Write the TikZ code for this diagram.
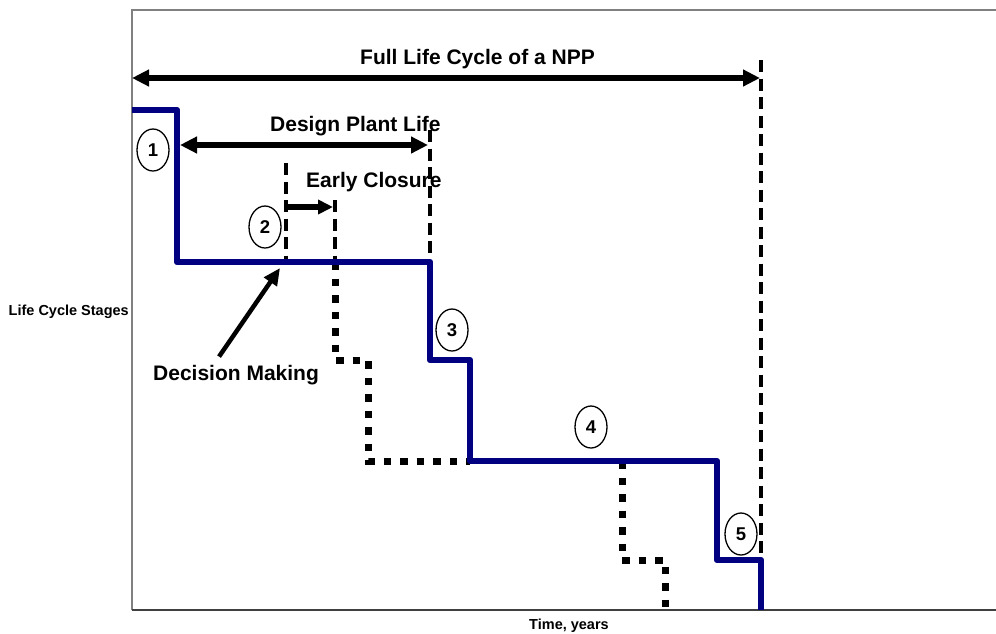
\documentclass[tikz,border=0pt]{standalone}
\usepackage{fontspec}
\setmainfont{Liberation Sans}
\usepackage{tikz}
\usetikzlibrary{arrows.meta,shapes.geometric}
\definecolor{stageblue}{RGB}{0,0,128}

\begin{document}
\begin{tikzpicture}[x=1pt, y=-1pt, >={Triangle[length=17pt,width=16pt]},
	every node/.style={inner sep=0pt, font=\fontsize{21}{25}\selectfont\bfseries},
	small/.style={font=\fontsize{14.5}{17}\selectfont\bfseries},
	stage/.style={draw, ellipse, line width=1.3pt, minimum width=32pt, minimum height=42pt, font=\fontsize{18.5}{20}\selectfont\bfseries},
	life/.style={stageblue, line width=6.3pt, line join=round},
	limit/.style={line width=4.3pt, dash pattern=on 12pt off 6.5pt},
	closure/.style={line width=7pt, dash pattern=on 7.5pt off 9pt},
	span/.style={line width=5.5pt}]
	\useasboundingbox (0,0) rectangle (996,633);
	\draw[gray, line width=1.5pt] (996,10) -- (132,10) -- (132,610);
	\draw[black!75, line width=1.5pt] (132,610) -- (996,610);
	\coordinate (fullL) at (132,78);
	\coordinate (fullR) at (760,78);
	\coordinate (dplL) at (180,145);
	\coordinate (dplR) at (428,145);
	\coordinate (ecL) at (288,207);
	\coordinate (ecR) at (333,207);
	\coordinate (dm) at (280,268);
	\draw[limit] (761,60) -- (761,560);
	\draw[limit] (430,130) -- (430,262);
	\draw[limit] (286,163) -- (286,262);
	\draw[limit] (335,200) -- (335,262);
	\draw[closure] (335,262) -- (335,360) -- (368,360) -- (368,461) -- (470,461);
	\draw[closure] (622,461) -- (622,560) -- (665,560) -- (665,610);
	\draw[life] (132,110) -- (177,110) -- (177,262) -- (430,262) -- (430,360) -- (470,360) -- (470,461) -- (717,461) -- (717,560) -- (761,560) -- (761,610);
	\draw[span, <->] (fullL) -- (fullR);
	\draw[span, <->] (dplL) -- (dplR);
	\draw[span, ->, >={Triangle[length=15pt,width=14pt]}] (ecL) -- (ecR);
	\node[anchor=base] (full) at (477.5,64) {Full Life Cycle of a NPP};
	\node[anchor=base west] (dpl) at (270,131) {Design Plant Life};
	\node[anchor=base west] (ec) at (306,187) {Early Closure};
	\node[anchor=base west] (decision) at (153,380) {Decision Making};
	\draw[line width=4.5pt, ->, >={Triangle[length=17pt,width=15pt]}] ([xshift=-17pt, yshift=8pt]decision.north) -- (dm);
	\node[small, anchor=base east] (stages) at (129,315) {Life Cycle Stages};
	\node[small, anchor=base] (time) at (569,629) {Time, years};
	\node[stage] (s1) at (153,150) {1};
	\node[stage] (s2) at (265,227) {2};
	\node[stage] (s3) at (452,330) {3};
	\node[stage] (s4) at (591,427) {4};
	\node[stage] (s5) at (741,534) {5};
\end{tikzpicture}
\end{document}
